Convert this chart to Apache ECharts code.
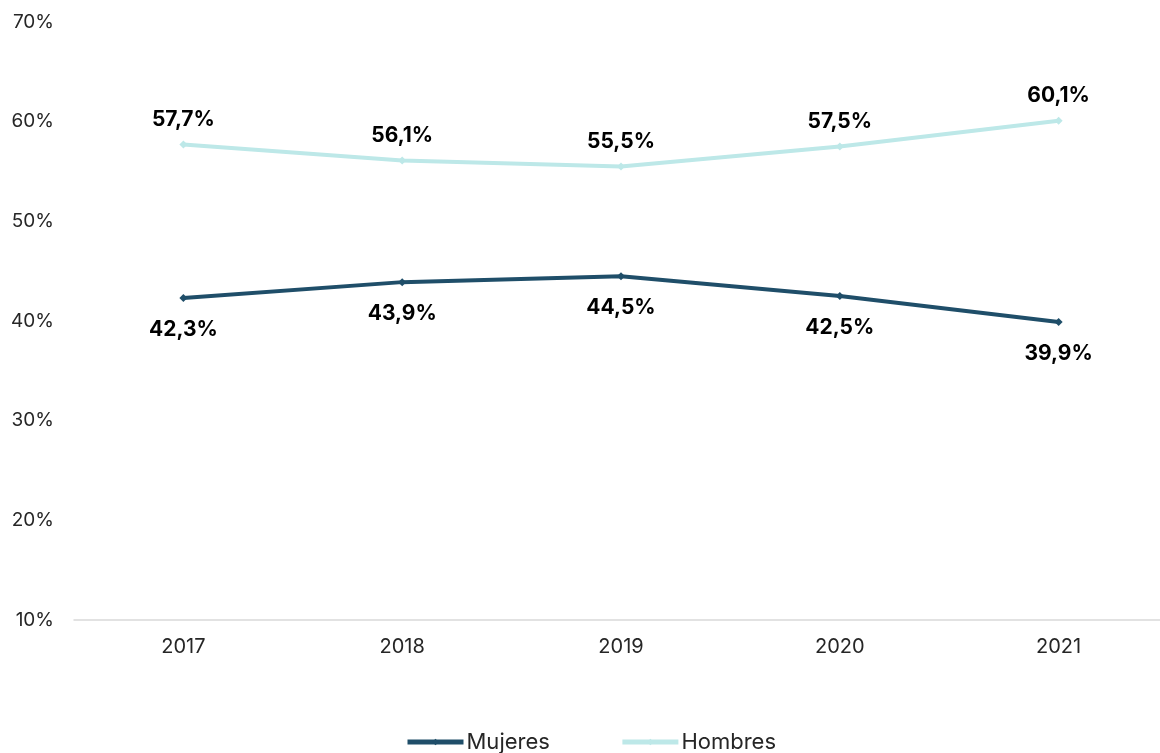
<!DOCTYPE html>
<html><head><meta charset="utf-8">
<script src="https://cdn.jsdelivr.net/npm/echarts@6/dist/echarts.min.js"></script>
<style>html,body{margin:0;padding:0;background:#fff}#c{width:1160px;height:753px}</style>
</head><body><div id="c"></div>
<script>
const categories = ['2017','2018','2019','2020','2021'];
const mujeres = [42.3, 43.9, 44.5, 42.5, 39.9];
const hombres = [57.7, 56.1, 55.5, 57.5, 60.1];
const yTicks = { min: 10, max: 70, interval: 10 };
const fmt = v => v.toFixed(1).replace('.', ',') + '%';
const chart = echarts.init(document.getElementById('c'));
const font = 'Inter, "Noto Sans", sans-serif';
chart.setOption({
  animation: false,
  textStyle: { fontFamily: font },
  grid: { left: 74, width: 1094, top: 22, bottom: 133, outerBoundsMode: 'none', containLabel: false },
  legend: {
    bottom: -5, left: 400, itemWidth: 56, itemHeight: 8, itemGap: 70,
    textStyle: { fontSize: 22, color: '#262626', fontFamily: font, padding: [0,0,0,-2] },
    data: [
      { name: 'Mujeres', lineStyle: { width: 5 } },
      { name: 'Hombres', lineStyle: { width: 5 } }
    ]
  },
  xAxis: {
    type: 'category', data: categories, boundaryGap: true,
    axisLine: { lineStyle: { color: '#d9d9d9', width: 1.5 } },
    axisTick: { show: false },
    axisLabel: { fontSize: 20, color: '#262626', margin: 17, fontFamily: font }
  },
  yAxis: {
    type: 'value', min: yTicks.min, max: yTicks.max, interval: yTicks.interval,
    splitLine: { show: false }, axisLine: { show: false }, axisTick: { show: false },
    axisLabel: { fontSize: 19, color: '#262626', margin: 20, formatter: v => v + '%', fontFamily: font }
  },
  series: [
    {
      name: 'Mujeres', type: 'line', data: mujeres, symbol: 'diamond', symbolSize: 8,
      lineStyle: { color: '#1f4e69', width: 4 }, itemStyle: { color: '#1f4e69' },
      label: { show: true, position: 'bottom', distance: 17, fontSize: 21, fontWeight: 'bold', color: '#000', formatter: p => fmt(p.value), fontFamily: font }
    },
    {
      name: 'Hombres', type: 'line', data: hombres, symbol: 'diamond', symbolSize: 8,
      lineStyle: { color: '#bde8e8', width: 4 }, itemStyle: { color: '#bde8e8' },
      label: { show: true, position: 'top', distance: 10, fontSize: 21, fontWeight: 'bold', color: '#000', formatter: p => fmt(p.value), fontFamily: font }
    }
  ]
});
</script></body></html>
